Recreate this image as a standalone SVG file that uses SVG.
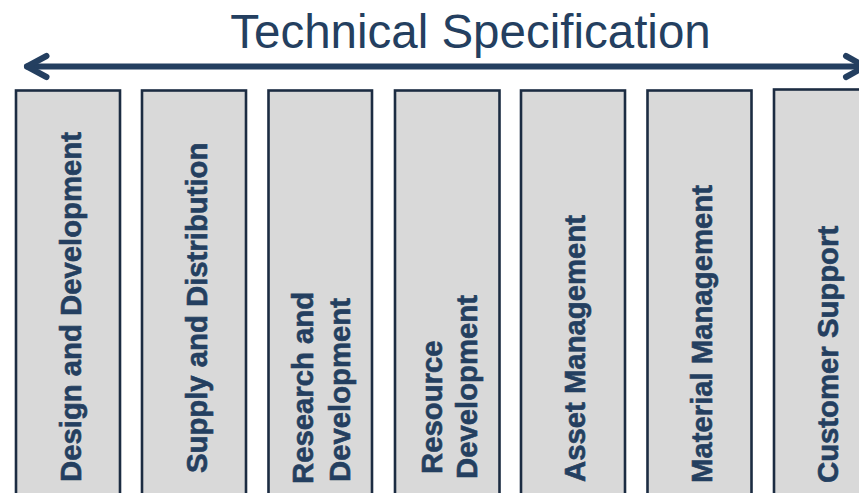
<svg xmlns="http://www.w3.org/2000/svg" width="859" height="493" viewBox="0 0 859 493">
<style>
.box{fill:#D9D9D9;stroke:#1C2C42;stroke-width:2.6}
.lbl{font-family:"Liberation Sans",Arial,sans-serif;font-weight:bold;font-size:29.3px;fill:#243F60;stroke:#243F60;stroke-width:0.6}
.title{font-family:"Liberation Sans",Arial,sans-serif;font-size:47.5px;fill:#243F60}
.arr{fill:none;stroke:#243F60;stroke-width:6;stroke-linecap:round;stroke-linejoin:round}
</style>
<rect width="859" height="493" fill="#FFFFFF"/>
<text id="title" class="title" x="470.5" y="48" text-anchor="middle">Technical Specification</text>
<g id="connectors">
<line class="arr" x1="27" y1="66.5" x2="864" y2="66.5"/>
<polyline class="arr" points="46.5,56 27,66.5 46.5,77"/>
<polyline class="arr" points="846,56 865,66.5 846,77"/>
</g>
<g id="n1"><rect class="box" x="16" y="90.5" width="104" height="420"/>
<text class="lbl" transform="translate(81,482) rotate(-90)">Design and Development</text></g>
<g id="n2"><rect class="box" x="142" y="90.5" width="104" height="420"/>
<text class="lbl" transform="translate(206.5,473) rotate(-90)">Supply and Distribution</text></g>
<g id="n3"><rect class="box" x="268.5" y="90.5" width="103.5" height="420"/>
<text class="lbl" transform="translate(313,484) rotate(-90)">Research and</text>
<text class="lbl" transform="translate(350,482) rotate(-90)">Development</text></g>
<g id="n4"><rect class="box" x="395" y="90.5" width="104.5" height="420"/>
<text class="lbl" transform="translate(441.5,474) rotate(-90)">Resource</text>
<text class="lbl" transform="translate(476.5,479) rotate(-90)">Development</text></g>
<g id="n5"><rect class="box" x="521" y="90.5" width="104" height="420"/>
<text class="lbl" transform="translate(585,482) rotate(-90)">Asset Management</text></g>
<g id="n6"><rect class="box" x="647.5" y="90.5" width="104" height="420"/>
<text class="lbl" transform="translate(711.5,483) rotate(-90)">Material Management</text></g>
<g id="n7"><rect class="box" x="774" y="89.5" width="104" height="420"/>
<text class="lbl" transform="translate(838,483) rotate(-90)">Customer Support</text></g>
</svg>
